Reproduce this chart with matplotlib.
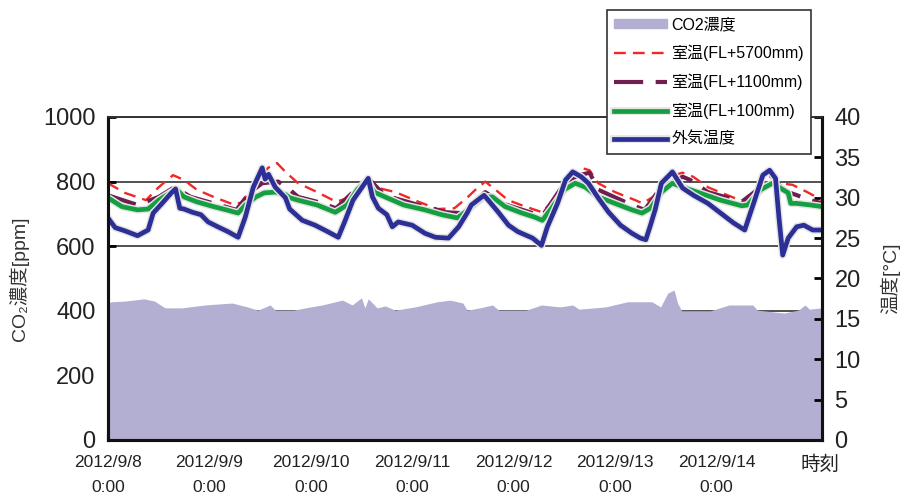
import matplotlib
matplotlib.use('Agg')
import matplotlib.pyplot as plt
import matplotlib.patheffects as pe

plt.rcParams['font.family'] = ['Liberation Sans', 'Noto Sans CJK JP', 'DejaVu Sans']

# hours since 2012/9/8 0:00
co2_h = [0, 1, 4, 8.5, 11, 13.5, 17.5, 23, 29.4, 33, 35.5, 38.4, 39.6, 44, 46.7, 50.7,
         55.5, 57.8, 60, 60.8, 61.6, 62.3, 63.7, 65.6, 68, 72.7, 78, 81, 84, 85, 88, 91,
         92.5, 99, 102.6, 107, 110, 111.5, 117.8, 123, 128.7, 130.8, 132.5, 134, 134.8,
         135.8, 142.6, 147, 152.6, 153.7, 160, 163.4, 165, 166, 169]
co2 = [425, 428, 430, 437, 430, 409, 409, 418, 424, 412, 402, 418, 402, 402, 409, 418,
       433, 418, 440, 409, 437, 428, 409, 415, 402, 412, 428, 433, 424, 402, 409, 418,
       402, 402, 418, 412, 418, 405, 412, 428, 428, 412, 455, 464, 424,
       400, 400, 418, 418, 402, 393, 402, 418, 405, 409]

out_h = [0, 1.7, 4, 7, 9.5, 10.7, 12.8, 15, 16, 17, 18, 20, 22, 23.7, 26, 28.4, 30.8,
         32.5, 34.4, 36.5, 37.2, 38, 39.6, 42, 43, 46, 49, 52, 54.5, 56, 58, 60, 61.6,
         62.6, 64, 66, 67.3, 68.7, 72, 75, 77.5, 80.6, 83, 85, 86, 89, 90, 92.4, 94.8,
         97, 100.5, 102.6, 104, 106.4, 108.3, 110, 112, 113.7, 116, 118.5, 121.3, 124,
         126, 127.3, 128.4, 129.5, 131, 133.6, 134.8, 136, 138.6, 142, 145, 148, 150.7,
         152.8, 155, 156.6, 158, 158.8, 159.7, 161, 163, 164.7, 166.8, 169]
out_t = [27.5, 26.3, 25.9, 25.3, 26.0, 28.1, 29.3, 30.6, 31.1, 28.7, 28.6, 28.2, 27.9,
         27.0, 26.4, 25.8, 25.1, 27.6, 31.3, 33.7, 32.3, 32.9, 31.3, 30.0, 28.6, 27.2,
         26.6, 25.8, 25.1, 27.0, 29.7, 31.2, 32.4, 30.1, 28.7, 27.9, 26.4, 27.0, 26.6,
         25.6, 25.1, 25.0, 26.4, 28.1, 29.1, 30.3, 29.7, 28.2, 26.6, 25.8, 25.0, 24.1,
         26.4, 29.3, 32.2, 33.2, 32.6, 31.8, 30.0, 28.2, 26.6, 25.6, 25.0, 24.8, 26.6,
         28.5, 31.8, 33.2, 32.2, 31.2, 30.3, 29.3, 28.1, 26.9, 26.0, 29.3, 32.8, 33.4,
         32.4, 27.6, 22.9, 25.0, 26.4, 26.6, 26.0, 26.0]

fl100_h = [0, 3.3, 7, 9.5, 12, 15, 16.3, 18, 21, 25, 28, 30.8, 32.5, 35, 37, 39.6, 42, 43,
           45, 49.5, 53.8, 56.6, 59, 61.4, 63, 66, 70, 75, 79, 82.7, 84.5, 87, 89, 91, 94,
           98, 101, 102.8, 105, 108, 110.6, 113, 116, 120, 124, 126.4, 128.4, 131, 133.6,
           136, 140, 145, 150, 151.4, 154.5, 157.3, 158.8, 161, 161.6, 163, 166.3, 169]
fl100_t = [30.0, 28.9, 28.5, 28.6, 29.7, 30.7, 31.0, 30.1, 29.5, 28.9, 28.5, 28.1, 29.1,
           30.1, 30.6, 30.7, 30.4, 30.0, 29.7, 29.1, 28.2, 29.1, 31.0, 32.2, 30.7, 30.0,
           29.1, 28.5, 27.9, 27.5, 28.2, 29.3, 30.1, 30.1, 28.9, 28.1, 27.6, 27.2, 28.7,
           31.0, 31.8, 31.3, 30.1, 29.3, 28.5, 28.1, 28.7, 30.7, 31.8, 31.3, 30.6, 29.7,
           29.0, 29.1, 31.0, 31.8, 31.3, 30.6, 29.3, 29.3, 29.1, 28.9]

fl1100_h = [0, 7, 12, 15.7, 19.6, 25, 30.4, 33.5, 36.5, 40.3, 43, 45, 49.5, 54, 59, 61.6,
            65.5, 73.5, 80, 83.6, 87, 89.3, 93.3, 100.5, 103, 108.3, 111.6, 114, 116, 124,
            127, 131, 136, 137.8, 142, 150, 154.5, 157.3, 161, 166.3, 169]
fl1100_t = [30.3, 29.1, 30.1, 31.3, 30.1, 29.3, 28.5, 30.6, 31.8, 32.0, 31.0, 30.1, 29.5,
            28.7, 31.2, 32.4, 30.3, 29.1, 28.2, 28.1, 29.7, 30.7, 29.3, 28.1, 27.9, 32.0,
            32.8, 33.1, 31.0, 29.1, 28.5, 31.3, 32.6, 32.2, 30.7, 29.5, 31.3, 32.2, 30.7,
            29.7, 29.3]

fl5700_h = [0, 4, 9, 12, 15.4, 18, 21, 25, 30, 31.8, 34, 37.9, 40, 42, 45, 49.5, 54, 57,
            59.5, 61.4, 64, 68, 73.5, 78, 82, 85, 87, 89.3, 91.7, 94.7, 98.8, 102.8, 105,
            108.3, 112, 114, 116, 120, 124.8, 126.5, 129, 132.5, 136, 138.5, 142, 146.7,
            150.5, 153.8, 156.8, 159, 162, 165.5, 169]
fl5700_t = [31.8, 30.6, 29.7, 31.3, 32.8, 32.2, 31.0, 30.1, 29.1, 29.5, 31.3, 33.7, 34.3,
            33.2, 31.8, 30.7, 29.5, 30.0, 31.3, 32.6, 31.2, 30.7, 29.5, 28.6, 28.7, 30.0,
            31.0, 32.0, 31.0, 29.7, 28.9, 28.2, 29.5, 31.8, 33.7, 33.4, 31.8, 30.7, 29.7,
            29.3, 30.1, 32.6, 33.1, 32.6, 31.3, 30.3, 29.5, 31.3, 32.6, 31.8, 31.6, 30.7,
            29.7]

day_ticks = [0, 24, 48, 72, 96, 120, 144]
day_labels = ['2012/9/8\n0:00', '2012/9/9\n0:00', '2012/9/10\n0:00', '2012/9/11\n0:00',
              '2012/9/12\n0:00', '2012/9/13\n0:00', '2012/9/14\n0:00']

fig = plt.figure(figsize=(9.05, 4.98), dpi=100)
ax = fig.add_axes([0.1193, 0.1165, 0.789, 0.6486])
ax2 = ax.twinx()

#CO2 area
ax.set_axisbelow(True)
ax.grid(True, axis='y', color='#222222', lw=1.1)
ax.fill_between(co2_h, co2, 0, color='#B2AFD3', lw=0, zorder=1)
ax.set_ylim(0, 1000)
ax.set_yticks(range(0, 1001, 200))
ax.set_xlim(0, 169)
ax.set_xticks(day_ticks)
ax.set_xticklabels(day_labels, fontsize=12.5, color='#222222')
for t in ax.get_xticklabels():
    t.set_linespacing(1.8)
ax.tick_params(axis='x', direction='in', length=5, width=1.5, pad=11)
ax.tick_params(axis='y', direction='in', length=6, width=2, labelsize=17, pad=9,
               labelcolor='#222222')
ax.set_ylabel('CO₂濃度[ppm]', fontsize=14, color='#333333', labelpad=10)

#temperatures
glow = [pe.Stroke(linewidth=5.5, foreground='#e4e4e4'), pe.Normal()]
ax2.plot(fl5700_h, fl5700_t, color='#F02828', lw=1.7, dashes=(5, 3),
         label='室温(FL+5700mm)')
ax2.plot(fl1100_h, fl1100_t, color='#6E1F4F', lw=3, dashes=(7, 3),
         label='室温(FL+1100mm)')
ax2.plot(fl100_h, fl100_t, color='#14A040', lw=3.4, label='室温(FL+100mm)',
         path_effects=glow)
ax2.plot(out_h, out_t, color='#2B2F96', lw=3.4, label='外気温度', path_effects=glow)
ax2.set_ylim(0, 40)
ax2.set_yticks(range(0, 41, 5))
ax2.tick_params(axis='y', direction='in', length=6, width=2, labelsize=17, pad=9,
                labelcolor='#222222')
ax2.set_ylabel('温度[°C]', fontsize=14, color='#333333', labelpad=14, rotation=90)

for a in (ax, ax2):
    for s in ['left', 'right', 'bottom']:
        a.spines[s].set_linewidth(2.2)
        a.spines[s].set_color('#111111')
    a.spines['top'].set_linewidth(1.2)
    a.spines['top'].set_color('#333333')

ax.text(0.997, -0.077, '時刻', transform=ax.transAxes, ha='center', va='center',
        fontsize=14, color='#222222')

#legend
h2, l2 = ax2.get_legend_handles_labels()
co2_patch = plt.Rectangle((0, 0), 1, 1, color='#B2AFD3')
leg = fig.legend([co2_patch] + h2, ['CO2濃度'] + l2, loc='upper left',
                 bbox_to_anchor=(0.671, 0.98), fontsize=11.5, frameon=True,
                 fancybox=False, edgecolor='#333333', framealpha=1,
                 handlelength=3.3, handleheight=0.5, labelspacing=0.78, borderpad=0.45,
                 handletextpad=0.25, borderaxespad=0)
leg.get_frame().set_linewidth(1.2)

fig.savefig('out.png', dpi=100)
